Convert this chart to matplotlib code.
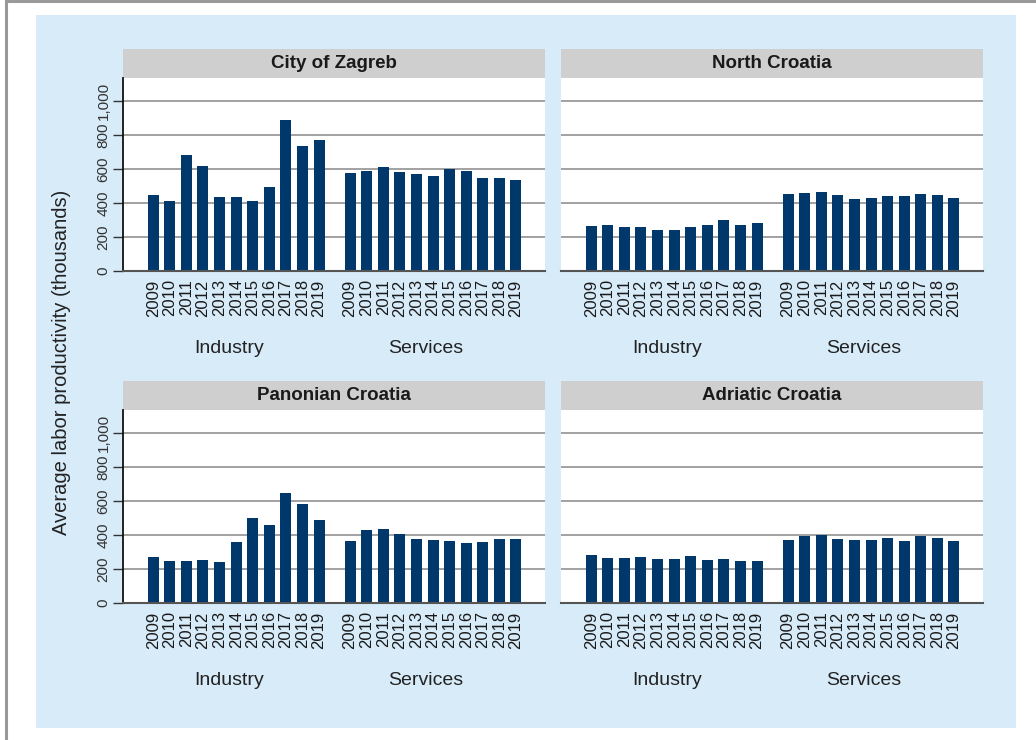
import numpy as np
import matplotlib.pyplot as plt
from matplotlib.patches import Rectangle
from matplotlib.lines import Line2D
from matplotlib.ticker import FuncFormatter

plt.rcParams['font.family'] = ['Liberation Sans', 'DejaVu Sans']

years = [str(y) for y in range(2009, 2020)]
sectors = ["Industry", "Services"]
regions = ["City of Zagreb", "North Croatia", "Panonian Croatia", "Adriatic Croatia"]

# labor productivity, thousands
zagreb_industry = [449, 413, 683, 619, 437, 437, 413, 495, 890, 737, 772]
zagreb_services = [577, 589, 613, 585, 572, 560, 601, 589, 548, 548, 536]
north_industry = [262, 268, 256, 256, 239, 239, 256, 268, 298, 268, 280]
north_services = [451, 457, 463, 445, 422, 428, 439, 439, 451, 445, 428]
panonian_industry = [269, 246, 246, 252, 240, 358, 500, 458, 647, 582, 488]
panonian_services = [364, 429, 435, 405, 376, 370, 364, 352, 358, 376, 376]
adriatic_industry = [281, 264, 264, 269, 258, 258, 275, 252, 258, 246, 246]
adriatic_services = [370, 393, 399, 376, 370, 370, 382, 364, 393, 382, 364]

data = {
    "City of Zagreb": (zagreb_industry, zagreb_services),
    "North Croatia": (north_industry, north_services),
    "Panonian Croatia": (panonian_industry, panonian_services),
    "Adriatic Croatia": (adriatic_industry, adriatic_services),
}

bar_color = "#00386b"
bg_blue = "#d7ebf9"
strip_gray = "#cfcfcf"

W, H = 1036, 740
fig = plt.figure(figsize=(W / 100, H / 100), dpi=100)
fig.patch.set_facecolor("white")

# light blue panel and the gray frame lines
fig.add_artist(Rectangle((36 / W, 1 - 728 / H), (1016 - 36) / W, (728 - 15) / H,
                         transform=fig.transFigure, facecolor=bg_blue, edgecolor="none", zorder=0))
fig.add_artist(Line2D([6 / W, 6 / W], [0, 1], transform=fig.transFigure, color="#999999", lw=2.2))
fig.add_artist(Line2D([6 / W, 1], [1 - 0.8 / H, 1 - 0.8 / H], transform=fig.transFigure,
                      color="#999999", lw=2.2))

n = len(years)
x_ind = np.arange(n)
x_srv = np.arange(n) + 11.87
width = 0.66

lefts = [123, 561]
bottoms = [271, 603]
ax_w = 422
ax_h = 193

for i, reg in enumerate(regions):
    row, col = divmod(i, 2)
    l = lefts[col]
    b = bottoms[row]
    ax = fig.add_axes([l / W, 1 - b / H, ax_w / W, ax_h / H])
    ax.set_facecolor("white")
    ind, srv = data[reg]
    ax.bar(x_ind, ind, width=width, color=bar_color, zorder=3)
    ax.bar(x_srv, srv, width=width, color=bar_color, zorder=3)
    ax.set_xlim(-1.82, x_srv[-1] + 1.75)
    ax.set_ylim(0, 1135)
    ax.set_yticks(range(0, 1001, 200))
    ax.yaxis.grid(True, color="#9a9a9a", lw=1.3, zorder=1)
    ax.set_axisbelow(True)
    for s in ["top", "right"]:
        ax.spines[s].set_visible(False)
    ax.spines["bottom"].set_color("#555555")
    ax.spines["bottom"].set_linewidth(1.5)
    ax.spines["bottom"].set_zorder(4)

    ax.set_xticks(list(x_ind) + list(x_srv))
    ax.set_xticklabels(years + years, rotation=90, fontsize=12, color="#1a1a1a")
    ax.tick_params(axis="x", length=0, pad=6)

    if col == 0:
        ax.spines["left"].set_color("#111111")
        ax.spines["left"].set_linewidth(1.3)
        ax.yaxis.set_major_formatter(FuncFormatter(lambda v, p: f"{int(v):,}"))
        ax.tick_params(axis="y", length=7, width=1.0, color="#333333", pad=2,
                       labelsize=11, labelcolor="#333333")
        for t in ax.get_yticklabels():
            t.set_rotation(90)
            t.set_va("center")
    else:
        ax.spines["left"].set_visible(False)
        ax.tick_params(axis="y", length=0, labelleft=False)

    # facet strip
    strip_h = 29 / ax_h
    ax.add_patch(Rectangle((0, 1), 1, strip_h, transform=ax.transAxes,
                           facecolor=strip_gray, edgecolor="none", clip_on=False))
    ax.text(0.5, 1 + strip_h / 2, reg, transform=ax.transAxes, ha="center", va="center",
            fontsize=13.5, fontweight="bold", color="#1a1a1a")

    # sector labels
    for xs, name in zip([x_ind, x_srv], sectors):
        ax.annotate(name, xy=(xs.mean(), 0), xycoords=("data", "axes fraction"),
                    xytext=(-5, -55.5), textcoords="offset points", ha="center", va="center",
                    fontsize=14, color="#222222")

fig.text(62 / W, 1 - 362 / H, "Average labor productivity (thousands)", rotation=90,
         ha="center", va="center", fontsize=14.5, color="#222222")

fig.savefig("out.png", dpi=100)
